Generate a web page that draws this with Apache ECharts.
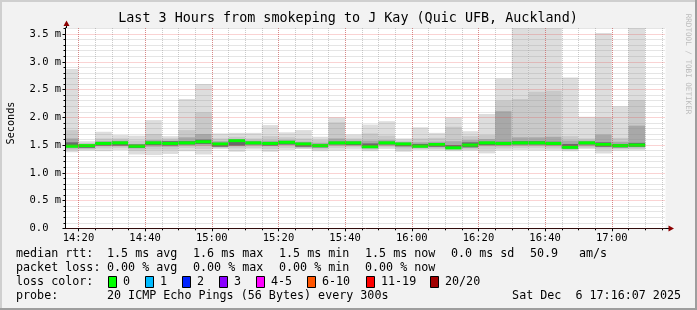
<!DOCTYPE html>
<html><head><meta charset="utf-8">
<script src="https://cdn.jsdelivr.net/npm/echarts@6/dist/echarts.min.js"></script>
<style>html,body{margin:0;padding:0;background:#f2f2f2}#c{width:697px;height:310px}</style>
</head><body><div id="c"></div>
<script>
// ---- data (5-minute bins, labelled by bin end time; values in ms) ----
const binEnds = ['14:20','14:25','14:30','14:35','14:40','14:45','14:50','14:55',
  '15:00','15:05','15:10','15:15','15:20','15:25','15:30','15:35','15:40','15:45','15:50','15:55',
  '16:00','16:05','16:10','16:15','16:20','16:25','16:30','16:35','16:40','16:45','16:50','16:55',
  '17:00','17:05','17:10'];
const pingMax = [2.87,1.57,1.74,1.68,1.67,1.95,1.66,2.33, 2.60,1.71,1.72,1.72,1.86,1.73,1.77,1.65,2.00,1.69,1.87,1.93, 1.62,1.82,1.72,2.00,1.75,2.06,2.70,3.62,3.62,3.62,2.72,2.01, 3.52,2.20,3.62];
const pingHi2 = [1.77,1.54,1.62,1.62,1.58,1.70,1.62,1.77, 2.09,1.62,1.65,1.62,1.66,1.64,1.62,1.59,1.91,1.62,1.71,1.67, 1.58,1.62,1.63,1.83,1.66,1.68,2.30,2.33,2.46,2.48,1.66,1.62, 2.00,1.63,2.31];
const pingHi3 = [1.62,1.52,1.57,1.58,1.52,1.59,1.58,1.64, 1.70,1.57,1.61,1.58,1.58,1.59,1.56,1.54,1.62,1.58,1.58,1.59, 1.55,1.55,1.56,1.57,1.59,1.61,2.11,1.64,1.64,1.65,1.58,1.58, 1.69,1.56,1.85];
const pingHi4 = [1.55,1.50,1.55,1.56,1.51,1.56,1.57,1.57, 1.60,1.54,1.59,1.56,1.55,1.57,1.54,1.51,1.56,1.56,1.53,1.56, 1.54,1.52,1.53,1.50,1.55,1.56,1.56,1.57,1.57,1.56,1.52,1.56, 1.55,1.52,1.54];
const medianRtt = [1.48,1.49,1.53,1.54,1.48,1.54,1.53,1.54, 1.56,1.52,1.58,1.54,1.53,1.55,1.52,1.49,1.54,1.54,1.47,1.54, 1.52,1.48,1.51,1.45,1.50,1.54,1.53,1.54,1.54,1.53,1.46,1.54, 1.51,1.49,1.50];
const pingLo4 = [1.46,1.45,1.49,1.49,1.45,1.50,1.49,1.51, 1.52,1.47,1.49,1.51,1.49,1.51,1.47,1.46,1.51,1.50,1.45,1.51, 1.48,1.46,1.47,1.44,1.46,1.50,1.50,1.51,1.51,1.50,1.44,1.51, 1.47,1.46,1.47];
const pingLo3 = [1.44,1.44,1.48,1.48,1.44,1.47,1.47,1.49, 1.49,1.47,1.48,1.49,1.48,1.50,1.46,1.45,1.49,1.49,1.44,1.49, 1.46,1.45,1.46,1.43,1.45,1.48,1.48,1.49,1.49,1.48,1.43,1.48, 1.46,1.45,1.46];
const pingLo2 = [1.41,1.42,1.44,1.45,1.40,1.42,1.42,1.45, 1.43,1.45,1.44,1.45,1.43,1.45,1.44,1.42,1.45,1.46,1.42,1.46, 1.42,1.43,1.43,1.41,1.42,1.42,1.44,1.45,1.45,1.44,1.41,1.45, 1.42,1.43,1.43];
const pingMin = [1.37,1.40,1.39,1.41,1.33,1.32,1.34,1.39, 1.33,1.43,1.38,1.42,1.38,1.41,1.43,1.39,1.40,1.42,1.39,1.43, 1.38,1.41,1.40,1.39,1.40,1.35,1.40,1.41,1.40,1.40,1.39,1.43, 1.35,1.40,1.40];

const xMajorTicks = ['14:20','14:40','15:00','15:20','15:40','16:00','16:20','16:40','17:00'];
const yMajorTicks = [0,0.5,1.0,1.5,2.0,2.5,3.0,3.5];
const yMinorTicks = [0.1,0.2,0.3,0.4,0.6,0.7,0.8,0.9,1.1,1.2,1.3,1.4,1.6,1.7,1.8,1.9,2.1,2.2,2.3,2.4,2.6,2.7,2.8,2.9,3.1,3.2,3.3,3.4,3.6];
const lossColors = [['0','#00ff00'],['1','#00bbff'],['2','#0022ff'],['3','#8a00ff'],['4-5','#ff00ff'],['6-10','#ff5500'],['11-19','#ff0000'],['20/20','#a10000']];

// ---- helpers ----
const toMin = s => { const p = s.split(':'); return (+p[0]) * 60 + (+p[1]); };
const X_MIN = 14*60 + 16 + 7/60, X_MAX = 17*60 + 16 + 7/60, BIN = 5, Y_MAX = 3.61;
const xMinorTicks = []; for (let m = toMin('14:20'); m < X_MAX; m += BIN) xMinorTicks.push(m);
const fmtTime = v => { const h = Math.floor(v/60), m = Math.round(v - h*60); return h + ':' + (m < 10 ? '0' : '') + m; };

const rows = binEnds.map((t, i) => [toMin(t), pingMin[i], pingLo2[i], pingLo3[i], pingLo4[i], medianRtt[i], pingHi4[i], pingHi3[i], pingHi2[i], pingMax[i]]);
const layers = [[1,9,'#dddddd'],[2,8,'#c9c9c9'],[3,7,'#a8a8a8'],[4,6,'#6a6a6a']];

function renderItem(params, api) {
  const t = api.value(0);
  const cs = params.coordSys;
  const clip = {x: cs.x, y: cs.y, width: cs.width, height: cs.height};
  const children = [];
  for (const [lo, hi, col] of layers) {
    const a = api.coord([t - BIN, api.value(hi)]);
    const b = api.coord([t, api.value(lo)]);
    const r = echarts.graphic.clipRectByRect({x: a[0], y: a[1], width: b[0]-a[0], height: b[1]-a[1]}, clip);
    if (r) children.push({type: 'rect', shape: r, style: {fill: col}});
  }
  const m0 = api.coord([t - BIN, api.value(5)]), m1 = api.coord([t, api.value(5)]);
  const mr = echarts.graphic.clipRectByRect({x: m0[0], y: m0[1] - 1.5, width: m1[0]-m0[0], height: 3}, clip);
  if (mr) children.push({type: 'rect', shape: mr, style: {fill: '#00ff00'}});
  return {type: 'group', children};
}

const MONO = '"DejaVu Sans Mono", monospace';
const minorGrid = {show: true, lineStyle: {color: 'rgba(140,140,140,0.45)', width: 1, type: [1,1]}};
const majorGrid = {show: true, lineStyle: {color: 'rgba(230,60,60,0.45)', width: 1, type: [1,1]}};

const chart = echarts.init(document.getElementById('c'), null, {renderer: 'canvas'});
const g = [];
const txt = (text, x, y, extra) => g.push({type: 'text', x, y, style: Object.assign({text, fill: '#000', font: '11.7px ' + MONO, verticalAlign: 'middle', align: 'left'}, extra || {})});
// frame
g.push({type: 'rect', shape: {x: 0, y: 0, width: 697, height: 2}, style: {fill: '#cfcfcf'}, silent: true});
g.push({type: 'rect', shape: {x: 0, y: 0, width: 2, height: 310}, style: {fill: '#cfcfcf'}, silent: true});
g.push({type: 'rect', shape: {x: 0, y: 308, width: 697, height: 2}, style: {fill: '#9e9e9e'}, silent: true});
g.push({type: 'rect', shape: {x: 695, y: 0, width: 2, height: 310}, style: {fill: '#9e9e9e'}, silent: true});
// title
g.push({type: 'text', x: 348, y: 19, style: {text: 'Last 3 Hours from smokeping to J Kay (Quic UFB, Auckland)', font: '13.4px ' + MONO, fill: '#000', align: 'center', verticalAlign: 'middle'}});
// y name
g.push({type: 'text', x: 11, y: 123, rotation: Math.PI/2, style: {text: 'Seconds', font: '10.2px ' + MONO, fill: '#000', align: 'center', verticalAlign: 'middle'}});
// watermark
g.push({type: 'text', x: 687.5, y: 64, rotation: -Math.PI/2, style: {text: 'RRDTOOL / TOBI OETIKER', font: '7.6px ' + MONO, fill: '#bdbdbd', align: 'center', verticalAlign: 'middle'}});
// axis arrows
g.push({type: 'line', shape: {x1: 665.5, y1: 228.5, x2: 669, y2: 228.5}, style: {stroke: '#000', lineWidth: 1}});
g.push({type: 'polygon', shape: {points: [[668.5,225.5],[674,228.5],[668.5,231.5]]}, style: {fill: '#8b0000'}});
g.push({type: 'line', shape: {x1: 66.5, y1: 28, x2: 66.5, y2: 25}, style: {stroke: '#000', lineWidth: 1}});
g.push({type: 'polygon', shape: {points: [[63.5,26],[66.5,20.5],[69.5,26]]}, style: {fill: '#8b0000'}});
// legend rows
txt('median rtt:', 16, 254); txt('1.5 ms avg', 107, 254); txt('1.6 ms max', 193, 254); txt('1.5 ms min', 279, 254);
txt('1.5 ms now', 365, 254); txt('0.0 ms sd', 451, 254); txt('50.9', 530, 254); txt('am/s', 579, 254);
txt('packet loss:', 16, 268); txt('0.00 % avg', 107, 268); txt('0.00 % max', 193, 268); txt('0.00 % min', 279, 268); txt('0.00 % now', 365, 268);
txt('loss color:', 16, 282);
const boxX = [108,145,182,219,256,307,366,430];
lossColors.forEach(([lab, col], i) => {
  g.push({type: 'rect', shape: {x: boxX[i] + 0.5, y: 276.5, width: 8, height: 11}, style: {fill: col, stroke: '#000', lineWidth: 1}});
  txt(lab, boxX[i] + 15, 282);
});
txt('probe:', 16, 296); txt('20 ICMP Echo Pings (56 Bytes) every 300s', 107, 296);
txt('Sat Dec  6 17:16:07 2025', 681, 296, {align: 'right'});

chart.setOption({
  animation: false,
  backgroundColor: '#f2f2f2',
  grid: {left: 65.5, top: 28, width: 600, height: 200.3, show: true, backgroundColor: '#ffffff', borderWidth: 0},
  xAxis: [
    {type: 'value', min: X_MIN, max: X_MAX, position: 'bottom', z: 3,
     axisLine: {show: true, lineStyle: {color: '#000', width: 1}},
     axisTick: {show: true, customValues: xMinorTicks, length: 2, inside: false, lineStyle: {color: '#000'}},
     axisLabel: {show: false}, splitLine: minorGrid},
    {type: 'value', min: X_MIN, max: X_MAX, position: 'bottom', z: 4,
     axisLine: {show: false},
     axisTick: {show: true, customValues: xMajorTicks.map(toMin), length: 3, lineStyle: {color: '#000'}},
     axisLabel: {show: true, customValues: xMajorTicks.map(toMin), formatter: fmtTime, margin: 4, fontFamily: MONO, fontSize: 10.5, color: '#000'},
     splitLine: majorGrid}
  ],
  yAxis: [
    {type: 'value', min: 0, max: Y_MAX, position: 'left', z: 3,
     axisLine: {show: true, lineStyle: {color: '#000', width: 1}},
     axisTick: {show: true, customValues: yMinorTicks, length: 2, lineStyle: {color: '#000'}},
     axisLabel: {show: false}, splitLine: minorGrid},
    {type: 'value', min: 0, max: Y_MAX, position: 'left', z: 4,
     axisLine: {show: false},
     axisTick: {show: true, customValues: yMajorTicks, length: 3, lineStyle: {color: '#000'}},
     axisLabel: {show: true, customValues: yMajorTicks, formatter: v => v === 0 ? '0.0' : v.toFixed(1) + ' m', align: 'left', margin: 36, fontFamily: MONO, fontSize: 10.5, color: '#000'},
     splitLine: majorGrid}
  ],
  series: [{type: 'custom', xAxisIndex: 0, yAxisIndex: 0, z: 1, renderItem, data: rows,
    encode: {x: 0, y: [1, 9]}, dimensions: ['t','min','lo2','lo3','lo4','med','hi4','hi3','hi2','max']}],
  graphic: g
});
</script></body></html>
